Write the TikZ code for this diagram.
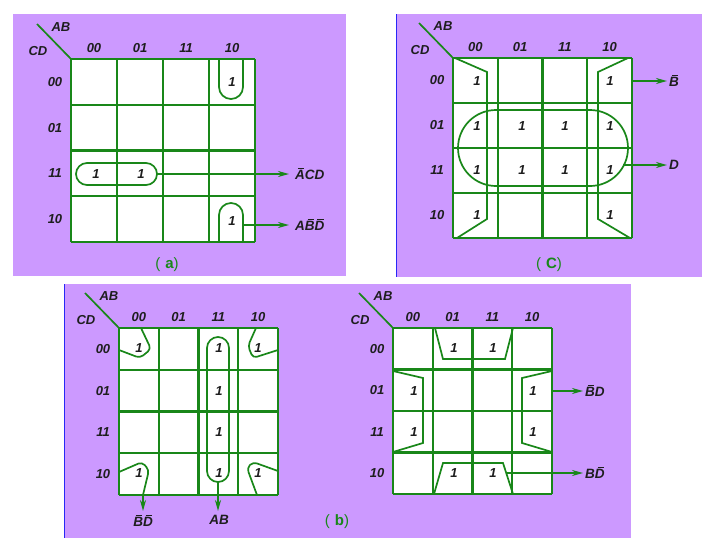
\documentclass[tikz,border=0pt]{standalone}
\usepackage{fontspec}
\setmainfont{Liberation Sans}
\usetikzlibrary{arrows.meta}
\definecolor{bgp}{RGB}{204,153,255}
\definecolor{kg}{RGB}{25,135,25}
\definecolor{txt}{RGB}{30,30,30}
\definecolor{edgeblue}{RGB}{40,40,245}
\newcommand\myob[1]{\setbox0\hbox{#1}\hbox{\rlap{\kern2.6pt\rule[\dimexpr\ht0+1.3pt\relax]{\dimexpr\wd0-3.4pt\relax}{0.9pt}}\box0}}
\tikzset{
  gridline/.style={kg, line width=2.2pt},
  loopline/.style={kg, line width=1.7pt},
  lab/.style={font=\fontsize{13}{13}\selectfont\bfseries\itshape, text=txt, inner sep=0pt},
  one/.style={lab},
  outlab/.style={font=\fontsize{13.5}{13.5}\selectfont\bfseries\itshape, text=txt, inner sep=0pt, anchor=west},
  arr/.style={kg, line width=1.7pt, -{Stealth[length=11pt,width=6pt]}},
  captxt/.style={font=\fontsize{15}{15}\selectfont, text=kg, inner sep=0pt},
}
% #1 name, #2 x0, #3 y0, #4 cell width, #5 cell height
\newcommand\kmap[5]{%
  \fill[white] (#2,#3) rectangle ({#2+4*#4},{#3+4*#5});
  \foreach \i in {0,...,4} {
    \draw[gridline] ({#2+\i*#4},#3) -- ({#2+\i*#4},{#3+4*#5});
    \draw[gridline] (#2,{#3+\i*#5}) -- ({#2+4*#4},{#3+\i*#5});
  }
  \foreach \t [count=\i from 0] in {00,01,11,10} {
    \node[lab] (#1c\i) at ({#2+(\i+0.5)*#4},{#3-11}) {\t};
    \node[lab] (#1r\i) at ({#2-16},{#3+(\i+0.5)*#5}) {\t};
  }
  \coordinate (#1o) at (#2,#3);
  \coordinate (#1d) at ({#2-34},{#3-35});
  \draw[kg, line width=1.7pt] (#1d) -- (#1o);
  \node[lab] (#1AB) at ({#2-10},{#3-32}) {AB};
  \node[lab] (#1CD) at ({#2-33},{#3-8}) {CD};
}
\begin{document}
\begin{tikzpicture}[x=1pt,y=-1pt]
\useasboundingbox (0,0) rectangle (709,549);
\fill[white] (0,0) rectangle (709,549);
% panels
\fill[bgp] (13,14) rectangle (346,276);
\fill[bgp] (396,14) rectangle (702,277);
\fill[bgp] (64,284) rectangle (631,538);
\draw[edgeblue, line width=1.5pt] (396.5,14) -- (396.5,277);
\draw[edgeblue, line width=1.5pt] (64.5,284) -- (64.5,538);

% ---------- (a)
\kmap{a}{71}{59}{46}{45.75}
\node[one] (a1) at (232,82) {1};
\node[one] (a2) at (96,174) {1};
\node[one] (a3) at (141,174) {1};
\node[one] (a4) at (232,221) {1};
\draw[loopline, rounded corners=12pt] (219,59) -- (219,99) -- (243,99) -- (243,59);
\draw[loopline, rounded corners=12pt] (219,242) -- (219,203) -- (243,203) -- (243,242);
\draw[loopline, rounded corners=11pt] (76,163) rectangle (157,185);
\coordinate (sa1) at (157,174);
\coordinate (sa2) at (243,225);
\node[outlab] (la1) at (295,174) {\myob{A}CD};
\node[outlab] (la2) at (295,225) {A\myob{B}\myob{D}};
\draw[arr, shorten >=6pt] (sa1) -- (la1.west);
\draw[arr, shorten >=6pt] (sa2) -- (sa2 -| la1.west);
\node[captxt] (capa) at (167,265) {(\hspace{5pt}\textbf{a})};

% ---------- (c)
\kmap{c}{453}{58}{44.75}{45}
\foreach \x [count=\j] in {477,522,565,610} {
  \node[one] (cm\j) at (\x,126) {1};
  \node[one] (cn\j) at (\x,170) {1};
}
\node[one] (c00a) at (477,81) {1};
\node[one] (c00b) at (610,81) {1};
\node[one] (c10a) at (477,215) {1};
\node[one] (c10b) at (610,215) {1};
\draw[loopline] (455,58) -- (487,72) -- (487,219) -- (457,238);
\draw[loopline] (628,58) -- (598,72) -- (598,219) -- (630,238);
\draw[loopline, rounded corners=38pt] (458,110) rectangle (628,186);
\coordinate (sc1) at (632,81);
\coordinate (sc2) at (623,165);
\node[outlab] (lc1) at (669,81) {\myob{B}};
\node[outlab] (lc2) at (669,165) {D};
\draw[arr, shorten >=2pt] (sc1) -- (lc1.west);
\draw[arr, shorten >=2pt] (sc2) -- (lc2.west);
\node[captxt] (capc) at (549,265) {(\hspace{5pt}\textbf{C})};

% ---------- (b) left
\kmap{b}{119}{328}{39.75}{41.75}
\foreach \y [count=\j] in {348,391,432,473} {
  \node[one] (bm\j) at (219,\y) {1};
}
\node[one] (b1) at (139,348) {1};
\node[one] (b2) at (258,348) {1};
\node[one] (b3) at (139,473) {1};
\node[one] (b4) at (258,473) {1};
\draw[loopline, rounded corners=11pt] (207,337) rectangle (229,482);
\draw[loopline, rounded corners=4pt] (119,350) -- (140,358) -- (151,349) -- (141,328);
\draw[loopline, rounded corners=4pt] (256,328) -- (248,346) -- (253,358) -- (278,350);
\draw[loopline, rounded corners=4pt] (119,472) -- (142,462) -- (149,470) -- (143,495);
\draw[loopline, rounded corners=4pt] (257,495) -- (247,468) -- (253,462) -- (278,471);
\coordinate (sb1) at (143,495);
\coordinate (sb2) at (218,482);
\node[outlab, anchor=north] (lb1) at (143,515) {\myob{B}\myob{D}};
\node[outlab, anchor=north] (lb2) at (219,515) {AB};
\draw[arr, shorten >=4pt] (sb1) -- (sb1 |- lb1.north);
\draw[arr, shorten >=4pt] (sb2) -- (sb2 |- lb2.north);
\node[captxt] (capb) at (337,522) {(\hspace{5pt}\textbf{b})};

% ---------- (b) right
\kmap{d}{393}{328}{39.75}{41.5}
\node[one] (d1) at (454,348) {1};
\node[one] (d2) at (493,348) {1};
\node[one] (d3) at (414,391) {1};
\node[one] (d4) at (414,432) {1};
\node[one] (d5) at (533,391) {1};
\node[one] (d6) at (533,432) {1};
\node[one] (d7) at (454,473) {1};
\node[one] (d8) at (493,473) {1};
\draw[loopline] (435,328) -- (443,359) -- (505,359) -- (513,328);
\draw[loopline] (393,371) -- (423,378) -- (423,443) -- (393,452);
\draw[loopline] (552,371) -- (522,378) -- (522,443) -- (552,452);
\draw[loopline] (434,494) -- (443,463) -- (503,463) -- (513,494);
\coordinate (sd1) at (552,391);
\coordinate (sd2) at (507,473);
\node[outlab] (ld1) at (585,391) {\myob{B}D};
\node[outlab] (ld2) at (585,473) {B\myob{D}};
\draw[arr, shorten >=2pt] (sd1) -- (ld1.west);
\draw[arr, shorten >=2pt] (sd2) -- (ld2.west);
\end{tikzpicture}
\end{document}
